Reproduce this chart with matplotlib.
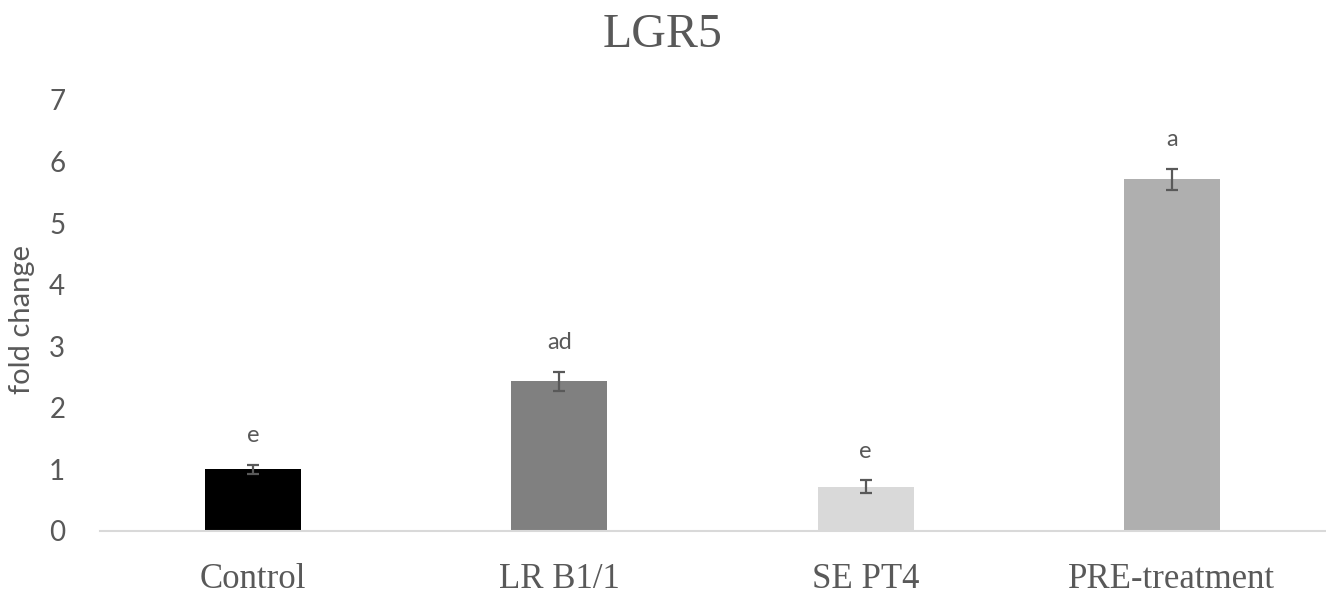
import matplotlib.pyplot as plt
import numpy as np

# Данные
groups = ['Control', 'LR B1/1', 'SE PT4', 'PRE-treatment']
fold_change = [1.0, 2.43, 0.72, 5.71]
errors = [0.07, 0.16, 0.10, 0.17]
letters = ['e', 'ad', 'e', 'a']
bar_colors = ['#000000', '#808080', '#d9d9d9', '#afafaf']

text_gray = '#595959'
sans = ['Lato', 'DejaVu Sans']
serif = ['Liberation Serif', 'DejaVu Serif']

fig = plt.figure(figsize=(13.26, 5.97), dpi=100)
ax = fig.add_axes([0.0754, 0.1106, 0.9238, 0.7219])

x = np.arange(len(groups))
ax.bar(x, fold_change, width=0.314, color=bar_colors, zorder=2)
ax.errorbar(x, fold_change, yerr=errors, fmt='none', ecolor=text_gray,
            elinewidth=1.6, capsize=4.5, capthick=1.6, zorder=3)

# буквы значимости над столбцами
for xi, v, e, lab in zip(x, fold_change, errors, letters):
    ax.annotate(lab, (xi, v + e), xytext=(0, 21), textcoords='offset points',
                ha='center', va='center', fontsize=17, color=text_gray,
                family=sans)

ax.set_xlim(-0.5, 3.5)
ax.set_ylim(0, 7)
ax.set_yticks(range(8))
ax.set_xticks(x)
ax.set_xticklabels(groups, family=serif, fontsize=25, color=text_gray)
for t in ax.get_yticklabels():
    t.set_family(sans)
    t.set_fontsize(20)
    t.set_color(text_gray)
ax.tick_params(axis='y', length=0, pad=25)
ax.tick_params(axis='x', length=0, pad=23)

for s in ['top', 'right', 'left']:
    ax.spines[s].set_visible(False)
ax.spines['bottom'].set_color('#d9d9d9')
ax.spines['bottom'].set_linewidth(1.5)

ax.set_ylabel('fold change', family=sans, fontsize=21, color=text_gray)
ax.yaxis.set_label_coords(-0.053, 0.49)

fig.text(0.5, 0.941, 'LGR5', ha='center', va='center', family=serif,
         fontsize=34.5, color=text_gray)

plt.savefig('out.png', dpi=100)
